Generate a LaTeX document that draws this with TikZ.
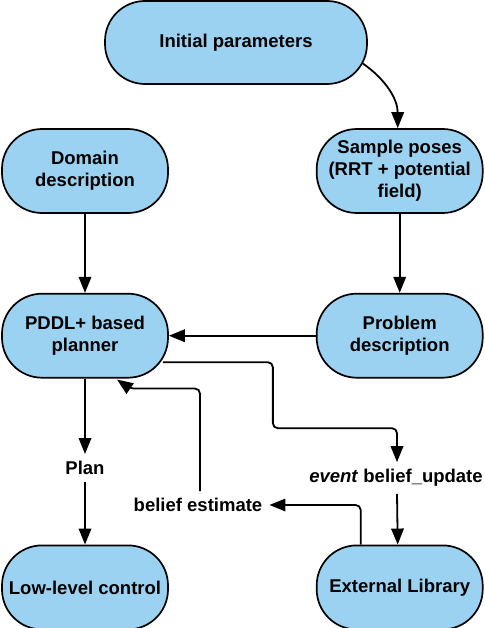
\documentclass[tikz,border=0pt]{standalone}
\usepackage{fontspec}
\setmainfont{Liberation Sans}
\usepackage{tikz}
\usepackage{xcolor}
\usetikzlibrary{arrows.meta,positioning,calc}
\definecolor{boxblue}{RGB}{155,210,242}
\tikzset{
  blk/.style ={rectangle, rounded corners=40pt, draw=black, fill=boxblue, line width=1.7pt,
               minimum height=84pt, minimum width=166pt, inner sep=0pt, align=center,
               font=\fontsize{18.5pt}{22pt}\selectfont\bfseries},
  lbl/.style ={inner sep=7pt, align=center, font=\fontsize{18.5pt}{22pt}\selectfont\bfseries},
  ar/.style  ={-{Triangle[length=16pt,width=12.5pt]}, line width=1.8pt, draw=black},
}
\begin{document}
\begin{tikzpicture}[x=1pt,y=1pt]
\useasboundingbox (0,0) rectangle (484,-628);
\node[blk, minimum width=262pt, minimum height=83pt] (init) at (236,-42.5) {Initial parameters};
\node[blk] (dom) at (85,-171) {Domain\\description};
\node[blk, right=147pt of dom] (samp) {Sample poses\\(RRT + potential\\field)};
\node[blk, below=79pt of dom] (pddl) {PDDL+ based\\planner};
\node[blk, below=79pt of samp] (prob) {Problem\\description};
\node[blk, below=166pt of pddl] (low) {Low-level control};
\node[blk, below=166pt of prob] (ext) {External Library};
\node[lbl] (plan) at (85,-468) {Plan};
\node[lbl] (event) at (396,-478) {\textit{event} belief\_update};
\node[lbl] (bel) at (198,-505) {belief estimate};
\coordinate (hit) at ([shift={(32pt,-1pt)}]pddl.south);

\draw[ar] ([shift={(-5pt,-21pt)}]init.east) to[out=-35,in=90] ([xshift=-2pt]samp.north);
\draw[ar] (dom)--(pddl); \draw[ar] (samp)--(prob); \draw[ar] (prob.west)--(pddl.east);
\draw[ar] (pddl)--(plan); \draw[ar] (plan)--(low);
\draw[ar, rounded corners=5pt] ([shift={(-6pt,-26.5pt)}]pddl.east) -- ++(110pt,0) -- ++(0,-66pt)
  -| ([xshift=1pt]event.north);
\draw[ar] ([xshift=1pt]event.south) -- ([xshift=-2pt]ext.north);
\draw[ar, rounded corners=5pt] ([xshift=-39pt]ext.north) |- (bel.east);
\draw[ar, rounded corners=5pt] ([xshift=2pt]bel.north) |- ([shift={(13pt,-9pt)}]hit) -- (hit);
\end{tikzpicture}
\end{document}
